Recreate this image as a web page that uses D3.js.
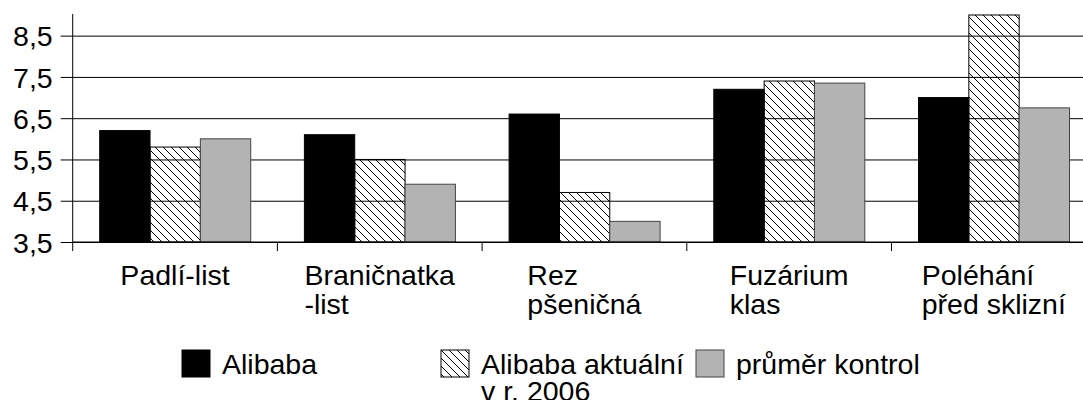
<!DOCTYPE html>
<html>

<head>
    <title>Alibaba</title>
    <script src="https://d3js.org/d3.v7.min.js"></script>
    <style>
        body {
            margin: 0;
            background: #fff;
        }

        text {
            font-family: "Liberation Sans", Arial, sans-serif;
            font-size: 28.5px;
            fill: #000;
        }
    </style>
</head>

<body>
    <script>
        var categories = [
            ["Padlí-list"],
            ["Braničnatka", "-list"],
            ["Rez", "pšeničná"],
            ["Fuzárium", "klas"],
            ["Poléhání", "před sklizní"]
        ];
        var seriesNames = ["Alibaba", "Alibaba aktuální", "průměr kontrol"];
        var legendLabels = [["Alibaba"], ["Alibaba aktuální", "v r. 2006"], ["průměr kontrol"]];
        var alibaba = [6.2, 6.1, 6.6, 7.2, 7.0];
        var alibabaAktualni = [5.8, 5.5, 4.7, 7.4, 9.0];
        var prumerKontrol = [6.0, 4.9, 4.0, 7.35, 6.75];
        var yTicks = [3.5, 4.5, 5.5, 6.5, 7.5, 8.5];

        var width = 1083, height = 400;
        var plotLeft = 72.7, bandW = 204.7, plotTop = 15, plotBottom = 242;

        var svg = d3.select("body").append("svg")
            .attr("width", width)
            .attr("height", height);

        // hatch pattern, no background so grid shows through
        var defs = svg.append("defs");
        defs.append("pattern")
            .attr("id", "hatch")
            .attr("patternUnits", "userSpaceOnUse")
            .attr("width", 8)
            .attr("height", 8)
            .selectAll("path")
            .data(["M0,0 L8,8", "M-1,7 L1,9", "M7,-1 L9,1"])
            .enter().append("path")
            .attr("d", d => d)
            .attr("stroke", "#000")
            .attr("stroke-width", 1);

        var fills = ["#000", "url(#hatch)", "#b3b3b3"];
        var strokes = ["#000", "#000", "#444"];

        var x = d3.scaleBand()
            .domain(d3.range(categories.length))
            .range([plotLeft, plotLeft + bandW * categories.length]);

        var xs = d3.scaleBand()
            .domain(seriesNames)
            .range([27, 27 + 151]);

        var y = d3.scaleLinear()
            .domain([3.5, 9])
            .range([plotBottom, plotTop]);

        // gridlines + y ticks
        var yAxis = d3.axisLeft(y)
            .tickValues(yTicks)
            .tickSize(-(bandW * categories.length))
            .tickFormat(d => d3.format(".1f")(d).replace(".", ","));

        var ga = svg.append("g")
            .attr("transform", "translate(" + plotLeft + ",0)")
            .call(yAxis);
        ga.select(".domain").remove();
        ga.selectAll(".tick line")
            .attr("x1", -12)
            .attr("stroke", "#000");
        ga.selectAll(".tick text")
            .attr("x", -20)
            .attr("dy", "0.36em")
            .attr("font-size", null)
            .attr("font-family", null);
        ga.attr("font-size", null).attr("font-family", null);

        var series = [alibaba, alibabaAktualni, prumerKontrol];
        var rows = [];
        categories.forEach((c, i) => {
            series.forEach((s, j) => rows.push({ cat: i, k: j, v: s[i] }));
        });

        svg.append("g").selectAll("rect")
            .data(rows)
            .enter().append("rect")
            .attr("x", d => x(d.cat) + xs(seriesNames[d.k]))
            .attr("width", xs.bandwidth())
            .attr("y", d => y(d.v))
            .attr("height", d => y(3.5) - y(d.v))
            .attr("fill", d => fills[d.k])
            .attr("stroke", d => strokes[d.k])
            .attr("stroke-width", 1);

        // x axis line and category boundaries
        var gx = svg.append("g")
            .attr("transform", "translate(0," + plotBottom + ")");
        gx.append("line")
            .attr("x1", plotLeft)
            .attr("x2", plotLeft + bandW * categories.length)
            .attr("stroke", "#000");
        gx.selectAll(".bound")
            .data(d3.range(categories.length + 1))
            .enter().append("line")
            .attr("x1", d => plotLeft + d * bandW)
            .attr("x2", d => plotLeft + d * bandW)
            .attr("y1", 0)
            .attr("y2", 9)
            .attr("stroke", "#000");

        svg.append("line")
            .attr("x1", plotLeft).attr("x2", plotLeft)
            .attr("y1", plotTop - 1).attr("y2", plotBottom)
            .attr("stroke", "#000");

        // category labels: block centred, lines left aligned
        categories.forEach((lines, i) => {
            var t = svg.append("text").attr("y", 285);
            lines.forEach((l, k) => {
                t.append("tspan")
                    .attr("x", 0)
                    .attr("dy", k == 0 ? 0 : 29)
                    .text(l);
            });
            var w = t.node().getBBox().width;
            t.attr("transform", "translate(" + (x(i) + bandW / 2 - w / 2) + ",0)");
        });

        // legend
        var legX = [182, 441, 696];
        legendLabels.forEach((lines, i) => {
            var g = svg.append("g").attr("transform", "translate(" + legX[i] + ",350)");
            g.append("rect")
                .attr("width", 28)
                .attr("height", 27)
                .attr("fill", fills[i])
                .attr("stroke", strokes[i]);
            var t = g.append("text").attr("x", 40).attr("y", 24);
            lines.forEach((l, k) => {
                t.append("tspan")
                    .attr("x", 40)
                    .attr("dy", k == 0 ? 0 : 27)
                    .text(l);
            });
        });
    </script>
</body>

</html>
